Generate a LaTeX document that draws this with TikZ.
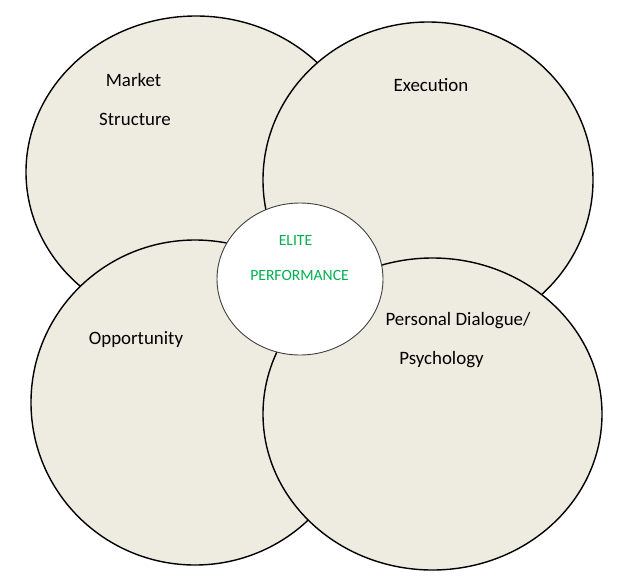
\documentclass[tikz,border=0pt]{standalone}
\usepackage{fontspec}
\setmainfont{Carlito}
\usetikzlibrary{shapes.geometric}
\definecolor{bgfill}{HTML}{EEECE1}
\definecolor{elitegreen}{RGB}{0,176,80}
\tikzset{
  bigoval/.style={ellipse, draw=black, line width=1.4pt, fill=bgfill, inner sep=0pt},
  centeroval/.style={ellipse, draw=black!75, line width=0.9pt, fill=white, inner sep=0pt},
  lbl/.style={anchor=base, inner sep=0pt, font=\fontsize{18.9}{21}\selectfont, text=black},
  glbl/.style={anchor=base, inner sep=0pt, font=\fontsize{15.6}{18}\selectfont, text=elitegreen}
}
\begin{document}
\begin{tikzpicture}[x=1pt, y=-1pt]
\useasboundingbox (0,0) rectangle (627,584);
\node[bigoval, minimum width=340pt, minimum height=312pt] (market) at (196,172) {};
\node[bigoval, minimum width=330pt, minimum height=316pt] (exec) at (428,180) {};
\node[bigoval, minimum width=328pt, minimum height=325pt] (opp) at (195,402.5) {};
\node[bigoval, minimum width=339pt, minimum height=312pt] (pers) at (432.5,414) {};
\node[centeroval, minimum width=166pt, minimum height=152pt] (elite) at (300,279) {};
\node[lbl] (t1) at (133.5,86) {Market};
\node[lbl] (t2) at (135,125) {Structure};
\node[lbl] (t3) at (431,91) {Execution};
\node[lbl] (t4) at (136,344) {Opportunity};
\node[lbl] (t5) at (458,325.5) {Personal Dialogue/};
\node[lbl] (t6) at (441.5,364) {Psychology};
\node[glbl] (t7) at (295.5,245) {ELITE};
\node[glbl] (t8) at (299.5,280) {PERFORMANCE};
\end{tikzpicture}
\end{document}
